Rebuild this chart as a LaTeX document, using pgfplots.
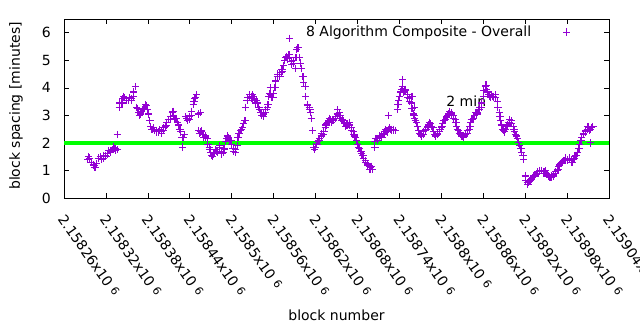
\documentclass[border=0pt]{standalone}
\usepackage{fontspec}
\setmainfont{DejaVu Sans}
\usepackage{pgfplots}
\pgfplotsset{compat=1.18}
\definecolor{dv}{RGB}{148,0,211}
\definecolor{gl}{RGB}{0,255,0}
\newcommand{\tl}[1]{2.#1x10 \raisebox{0.3ex}{\fontsize{11bp}{11bp}\selectfont 6}}
\begin{document}
\begin{tikzpicture}
\fontsize{14bp}{16bp}\selectfont
\useasboundingbox (-64bp,-132bp) rectangle (576bp,198bp);
\begin{axis}[at={(0,0)}, anchor=south west, scale only axis,
  width=545bp, height=179bp,
  xmin=260, xmax=1040, ymin=0, ymax=6.5,
  xtick={260,320,380,440,500,560,620,680,740,800,860,920,980,1040},
  xticklabels={\tl{15826},\tl{15832},\tl{15838},\tl{15844},\tl{1585},\tl{15856},\tl{15862},\tl{15868},\tl{15874},\tl{1588},\tl{15886},\tl{15892},\tl{15898},\tl{15904}},
  ytick={0,1,2,3,4,5,6},
  tick align=inside, xtick pos=both, ytick pos=both,
  major tick length=5bp,
  tick style={black, line width=0.6bp},
  axis line style={black, line width=0.8bp},
  /pgf/number format/assume math mode=true,
  yticklabel style={inner sep=0pt, xshift=-13bp},
  xticklabel style={inner sep=0pt, xshift=2bp, yshift=-15bp, rotate=-55, anchor=north west},
  xlabel={block number},
  xlabel style={at={(axis description cs:0.5,0)}, anchor=center, yshift=-117bp},
  legend style={draw=none, fill=none, inner sep=0pt, nodes={inner sep=0pt}, column sep=0pt,
    at={(0.9294,0.927)}, anchor=east},
  legend cell align=right, legend plot pos=right,
  legend image code/.code={\path (0bp,0bp); \draw[#1, only marks] plot coordinates {(35bp,0bp)};},
]
\node[anchor=base west, inner sep=0pt] at (axis cs:807,3.32) {2 min};
\addplot[only marks, mark=+, mark size=3.6bp, dv, line width=1.1bp] coordinates {
(294,1.40) (297,1.45) (302,1.20) (304,1.10) (307,1.25) (312,1.50) (316,1.45) (319,1.55)
(322,1.60) (326,1.70) (329,1.75) (333,1.80) (336,1.75) (339,3.30) (342,3.45) (344,3.60)
(347,3.65) (352,3.55) (356,3.60) (359,3.70) (362,4.05) (364,3.30) (367,3.10) (370,3.05)
(373,3.20) (377,3.40) (380,3.20) (383,2.80) (386,2.50) (390,2.45) (395,2.40) (399,2.40)
(402,2.45) (405,2.60) (407,2.75) (412,2.85) (415,3.10) (417,3.00) (420,2.90) (423,2.75)
(426,2.50) (429,2.20) (433,2.30) (436,2.90) (439,2.85) (442,3.00) (445,3.40) (447,3.60)
(450,3.75) (453,2.45) (456,2.40) (459,2.30) (462,2.20) (465,2.15) (468,1.85) (470,1.65)
(473,1.50) (476,1.65) (479,1.70) (482,1.85) (485,1.70) (488,1.65) (490,1.75) (493,2.15)
(496,2.20) (499,2.10) (502,1.80) (505,1.65) (508,1.90) (510,2.35) (513,2.45) (516,2.55)
(519,2.80) (522,3.55) (525,3.65) (528,3.70) (530,3.75) (533,3.60) (536,3.55) (539,3.30)
(542,3.10) (545,2.95) (548,3.10) (551,3.30) (553,3.70) (556,3.75) (559,3.65) (562,4.00)
(565,4.40) (568,4.50) (571,4.55) (573,4.60) (576,5.00) (579,5.15) (582,5.20) (585,4.95)
(588,5.00) (591,4.70) (593,5.40) (596,5.45) (599,4.90) (602,4.40) (605,4.05) (608,3.40)
(611,3.30) (613,3.10) (616,2.45) (619,1.75) (622,1.95) (625,2.10) (628,2.25) (631,2.30)
(634,2.55) (636,2.70) (639,2.80) (642,2.85) (645,2.80) (648,2.90) (651,3.05) (654,3.10)
(656,2.90) (659,2.85) (662,2.70) (665,2.65) (668,2.75) (671,2.55) (674,2.40) (676,2.25)
(679,2.10) (682,1.85) (685,1.70) (688,1.55) (691,1.35) (694,1.25) (697,1.15) (699,1.10)
(702,1.05) (705,2.05) (708,2.15) (711,2.20) (714,2.25) (717,2.30) (719,2.40) (722,2.45)
(725,2.50) (728,2.50) (731,2.45) (734,2.45) (737,3.20) (739,3.55) (742,3.85) (745,4.05)
(748,3.90) (751,3.75) (754,3.60) (757,3.45) (760,3.05) (762,2.90) (765,2.75) (768,2.45)
(771,2.30) (774,2.30) (777,2.45) (780,2.55) (782,2.65) (785,2.70) (788,2.55) (791,2.30)
(794,2.30) (797,2.40) (800,2.55) (802,2.70) (805,2.80) (808,2.95) (811,3.05) (814,3.10)
(817,3.00) (820,2.85) (822,2.60) (825,2.45) (828,2.30) (831,2.25) (834,2.30) (837,2.35)
(840,2.50) (842,2.75) (845,2.85) (848,3.00) (851,3.05) (854,3.20) (857,3.30) (860,3.70)
(863,4.05) (865,3.95) (868,3.75) (871,3.65) (874,3.70) (877,3.75) (880,3.50) (883,3.10)
(885,2.80) (888,2.50) (891,2.40) (894,2.60) (897,2.75) (900,2.80) (903,2.60) (905,2.40)
(908,2.25) (911,2.00) (914,1.80) (917,1.55) (920,0.80) (923,0.55) (925,0.55) (928,0.65)
(931,0.75) (934,0.80) (937,0.90) (940,0.95) (943,1.00) (946,0.95) (948,0.95) (951,0.90)
(954,0.80) (957,0.75) (960,0.80) (963,0.90) (966,1.00) (968,1.15) (971,1.25) (974,1.30)
(977,1.35) (980,1.40) (983,1.40) (986,1.35) (989,1.40) (991,1.50) (994,1.55) (997,1.80)
(1000,2.10) (1003,2.30) (1006,2.40) (1009,2.50) (1011,2.55) (1014,2.50) (1017,2.60)
(336,2.30) (430,1.85) (455,3.10) (555,4.00) (583,5.80) (705,1.85) (724,3.00) (745,4.30)
(1013,2.00) (758,3.70) (762,3.30)
(295,1.50) (299,1.28) (303,1.18) (305,1.12) (309,1.45) (314,1.40) (317,1.55) (320,1.50)
(324,1.72) (327,1.65) (331,1.85) (334,1.72) (340,3.45) (343,3.45) (345,3.70) (349,3.55)
(354,3.65) (357,3.55) (360,3.85) (365,3.25) (368,3.00) (371,3.15) (375,3.25) (378,3.35)
(381,3.05) (384,2.60) (388,2.55) (392,2.40) (397,2.48) (400,2.35) (403,2.55) (406,2.62)
(409,2.85) (413,2.95) (416,3.15) (418,2.90) (421,2.88) (424,2.65) (427,2.40) (431,2.20)
(434,2.95) (437,2.80) (440,2.95) (443,3.15) (446,3.50) (448,3.65) (452,3.05) (454,2.35)
(457,2.45) (460,2.20) (463,2.25) (466,1.95) (469,1.75) (471,1.55) (474,1.60) (477,1.75)
(480,1.65) (483,1.90) (486,1.60) (489,1.80) (491,2.05) (494,2.25) (497,2.10) (500,1.95)
(503,1.70) (506,1.75) (509,2.20) (511,2.35) (514,2.50) (517,2.70) (520,3.30) (523,3.65)
(526,3.75) (529,3.60) (531,3.70) (534,3.45) (537,3.45) (540,3.20) (543,3.00) (546,3.05)
(549,3.20) (552,3.40) (554,3.80) (557,3.65) (560,3.80) (563,4.25) (566,4.50) (569,4.40)
(572,4.65) (574,4.80) (577,5.10) (580,5.05) (583,5.10) (586,4.85) (589,4.90) (592,5.10)
(594,5.45) (597,5.10) (600,4.70) (603,4.20) (606,3.70) (609,3.35) (612,3.20) (614,2.90)
(617,1.85) (620,1.85) (623,2.05) (626,2.15) (629,2.35) (632,2.40) (635,2.65) (637,2.75)
(640,2.90) (643,2.75) (646,2.85) (649,2.95) (652,3.20) (655,3.00) (657,2.80) (660,2.80)
(663,2.60) (666,2.70) (669,2.65) (672,2.45) (675,2.30) (677,2.20) (680,1.95) (683,1.80)
(686,1.60) (689,1.45) (692,1.30) (695,1.20) (698,1.05) (700,1.15) (706,2.15) (709,2.10)
(712,2.25) (715,2.20) (718,2.35) (720,2.50) (723,2.40) (726,2.55) (729,2.45) (732,2.50)
(738,3.40) (740,3.70) (743,3.95) (746,3.85) (749,3.95) (752,3.65) (755,3.50) (758,3.25)
(761,3.00) (763,2.80) (766,2.60) (769,2.35) (772,2.25) (775,2.40) (778,2.50) (781,2.60)
(783,2.75) (786,2.60) (789,2.40) (792,2.25) (795,2.35) (798,2.50) (801,2.60) (803,2.80)
(806,2.85) (809,3.00) (812,3.15) (815,3.05) (818,2.90) (821,2.75) (823,2.50) (826,2.35)
(829,2.25) (832,2.20) (835,2.35) (838,2.45) (841,2.60) (843,2.85) (846,2.90) (849,3.10)
(852,3.10) (855,3.30) (858,3.45) (861,3.90) (864,4.10) (866,3.85) (869,3.70) (872,3.75)
(875,3.65) (878,3.65) (881,3.30) (884,2.95) (886,2.65) (889,2.45) (892,2.50) (895,2.65)
(898,2.85) (901,2.70) (904,2.50) (906,2.30) (909,2.15) (912,1.90) (915,1.65) (918,1.40)
(921,0.65) (924,0.50) (926,0.60) (929,0.70) (932,0.80) (935,0.85) (938,0.95) (941,1.00)
(944,1.00) (947,0.90) (949,1.00) (952,0.85) (955,0.75) (958,0.80) (961,0.85) (964,0.95)
(967,1.05) (969,1.20) (972,1.30) (975,1.35) (978,1.45) (981,1.35) (984,1.45) (987,1.30)
(990,1.45) (992,1.55) (995,1.65) (998,1.95) (1001,2.20) (1004,2.35) (1007,2.45) (1010,2.60)
(1012,2.45) (1015,2.55)
};
\addlegendentry{8 Algorithm Composite - Overall}
\addplot[gl, line width=4.5bp, forget plot] coordinates {(260,2) (1040,2)};
\end{axis}
\node[rotate=90, anchor=center, inner sep=0pt] at (-48bp,92bp) {block spacing [minutes]};
\end{tikzpicture}
\end{document}
